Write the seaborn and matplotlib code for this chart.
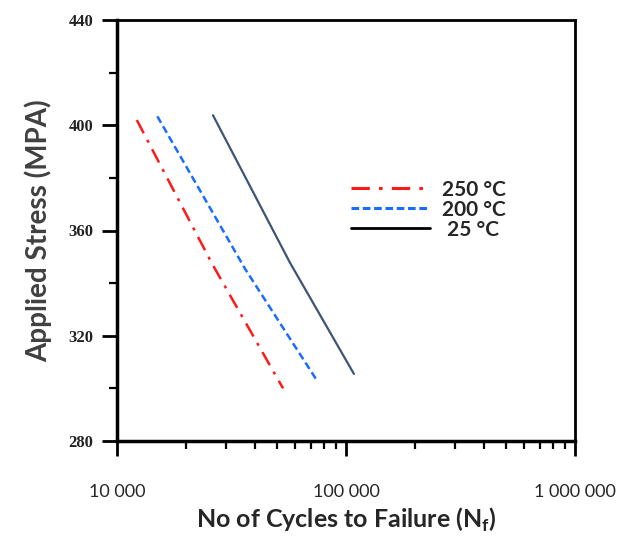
import numpy as np
import pandas as pd
import seaborn as sns
import matplotlib.pyplot as plt
from matplotlib.lines import Line2D
from matplotlib.ticker import MultipleLocator, LogLocator, NullFormatter

# curvas S-N
ciclos_250 = [12200, 26000, 53100]
esfuerzo_250 = [402, 347.4, 300]
ciclos_200 = [15000, 36200, 73900]
esfuerzo_200 = [403.4, 345.5, 303.6]
ciclos_25 = [26250, 56900, 108300]
esfuerzo_25 = [403.8, 347.8, 305.5]

etiquetas = ['250 °C', '200 °C', ' 25 °C']
xticks = [1e4, 1e5, 1e6]
xtick_labels = ['10 000', '100 000', '1 000 000']
yticks = [280, 320, 360, 400, 440]

sns.set_style("ticks")
plt.rcParams['font.family'] = ['Lato', 'DejaVu Sans']
plt.rcParams['mathtext.fontset'] = 'custom'
plt.rcParams['mathtext.bf'] = 'Lato:bold'
plt.rcParams['mathtext.rm'] = 'Lato'

fig = plt.figure(figsize=(6.2, 5.37), dpi=100)
ax = fig.add_axes([117/620, 1-441/537, (575-117)/620, (441-20)/537])

df250 = pd.DataFrame({'N': ciclos_250, 'S': esfuerzo_250})
df200 = pd.DataFrame({'N': ciclos_200, 'S': esfuerzo_200})
df25 = pd.DataFrame({'N': ciclos_25, 'S': esfuerzo_25})

rojo, azul, marino = '#ff1a1a', '#1a6cff', '#3d5575'
sns.lineplot(data=df250, x='N', y='S', ax=ax, sort=False, color=rojo,
             linewidth=1.8).lines[-1].set_dashes([6, 3, 1.2, 3])
sns.lineplot(data=df200, x='N', y='S', ax=ax, sort=False, color=azul,
             linewidth=1.8).lines[-1].set_dashes([3, 1.6])
sns.lineplot(data=df25, x='N', y='S', ax=ax, sort=False, color=marino,
             linewidth=1.6)

ax.set_xscale('log')
ax.set_xlim(1e4, 1e6)
ax.set_ylim(280, 440)
ax.set_xticks(xticks)
ax.set_xticklabels(xtick_labels, fontsize=13)
ax.xaxis.set_minor_locator(LogLocator(base=10, subs=np.arange(2, 10)))
ax.xaxis.set_minor_formatter(NullFormatter())
ax.set_yticks(yticks)
ax.set_yticklabels([str(v) for v in yticks], family='Liberation Serif',
                   fontweight='bold', fontsize=12, color='#222222')
ax.yaxis.set_minor_locator(MultipleLocator(20))

ax.tick_params(axis='x', which='major', length=11, width=2, pad=20, color='black')
ax.tick_params(axis='x', which='minor', length=5.5, width=1.6, color='black')
ax.tick_params(axis='y', which='major', length=11, width=2, pad=6, color='black')
ax.tick_params(axis='y', which='minor', length=6, width=1.6, color='black')
for lado in ['left', 'bottom']:
    ax.spines[lado].set_linewidth(2.5)
for lado in ['top', 'right']:
    ax.spines[lado].set_linewidth(2)
for s in ax.spines.values():
    s.set_color('black')

ax.set_xlabel(r'No of Cycles to Failure (N$_\mathbf{f}$)', fontsize=18,
              fontweight='bold', labelpad=4)
ax.set_ylabel('Applied Stress (MPA)', fontsize=20, fontweight='bold',
              color='#404040', labelpad=12)

manijas = [Line2D([], [], color=rojo, lw=2.2, dashes=[6, 3, 1.2, 3]),
           Line2D([], [], color=azul, lw=2.2, dashes=[2.5, 1.2]),
           Line2D([], [], color='black', lw=2.0)]
ax.legend(manijas, etiquetas, loc='upper left', bbox_to_anchor=(0.47, 0.665),
          frameon=False, handlelength=3.8, handletextpad=0.55,
          labelspacing=0.0, prop={'family': 'Lato', 'weight': 'bold', 'size': 15})

fig.savefig('out.png', dpi=100)
